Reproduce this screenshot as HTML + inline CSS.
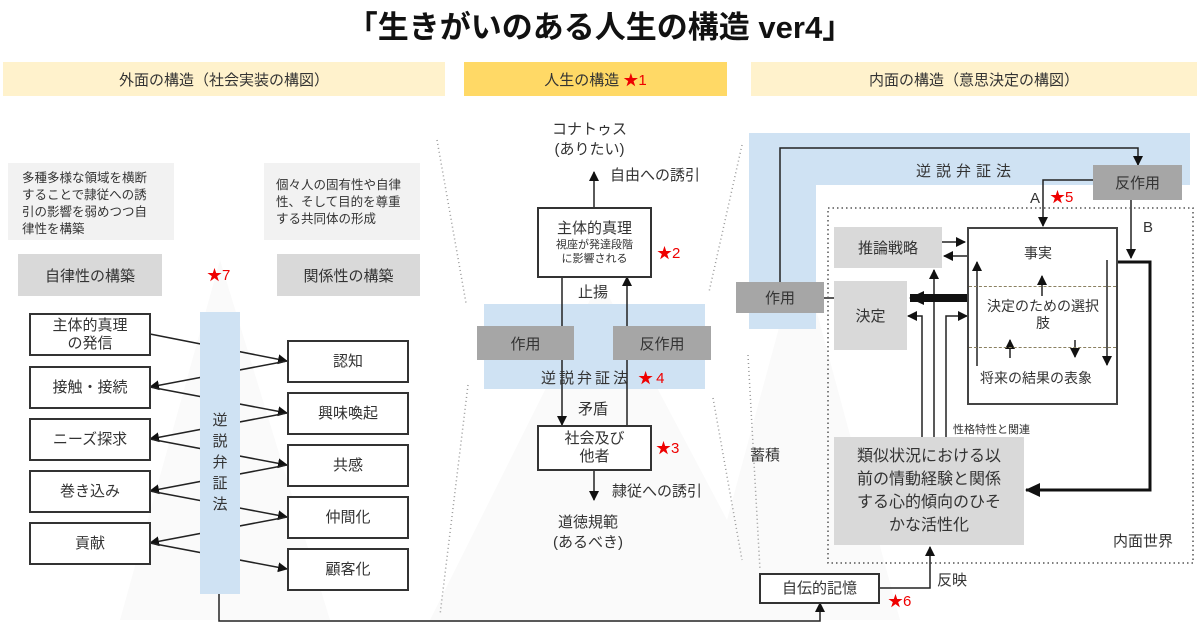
<!DOCTYPE html>
<html><head><meta charset="utf-8"><style>
body{margin:0;width:1200px;height:626px;background:#fff;position:relative;overflow:hidden;font-family:"Liberation Sans","Noto Sans CJK JP",sans-serif;color:#333}
div{position:absolute;box-sizing:border-box}
.c{display:flex;align-items:center;justify-content:center;text-align:center}
.bx{border:2px solid #333;background:#fff;font-size:15px;line-height:18px}
.g{background:#d9d9d9;font-size:15px}
.r{color:#e00;font-size:15px}
.t{font-size:15px;white-space:nowrap}
svg{position:absolute;left:0;top:0}
</style></head><body>
<svg width="1200" height="626">
<g fill="#fafafa"><polygon points="120,620 220,260 330,620"/><polygon points="430,620 600,280 780,620"/><polygon points="700,620 800,250 900,620"/></g>
<g stroke="#999" stroke-width="1.5" stroke-dasharray="1 3" fill="none">
<line x1="437" y1="140" x2="466" y2="303"/><line x1="468" y1="385" x2="440" y2="615"/>
<line x1="742" y1="145" x2="709" y2="292"/><line x1="713" y1="398" x2="742" y2="560"/>
<line x1="748" y1="355" x2="760" y2="570"/>
</g>
<rect x="484" y="304" width="221" height="85" fill="#cfe2f3"/>
<path d="M749,133 H1190 V185 H816 V329 H749 Z" fill="#cfe2f3"/>
<defs><marker id="a" markerWidth="10" markerHeight="10" refX="9" refY="5" orient="auto" markerUnits="userSpaceOnUse"><path d="M0,0 L10,5 L0,10 Z" fill="#111"/></marker>
<marker id="b" markerWidth="16" markerHeight="16" refX="14" refY="8" orient="auto" markerUnits="userSpaceOnUse"><path d="M0,1 L15,8 L0,15 Z" fill="#111"/></marker></defs>
<g stroke="#222" stroke-width="1.5" fill="none" marker-end="url(#a)">
<line x1="150" y1="334" x2="287" y2="361"/><line x1="287" y1="361" x2="150" y2="387"/>
<line x1="150" y1="387" x2="287" y2="413"/><line x1="287" y1="413" x2="150" y2="439"/>
<line x1="150" y1="439" x2="287" y2="465"/><line x1="287" y1="465" x2="150" y2="491"/>
<line x1="150" y1="491" x2="287" y2="517"/><line x1="287" y1="517" x2="150" y2="543"/>
<line x1="150" y1="543" x2="287" y2="569"/>
<path d="M219,594 V621 H820 V603"/>
<line x1="594" y1="207" x2="594" y2="172"/>
<line x1="562" y1="277" x2="562" y2="425"/>
<line x1="627" y1="425" x2="627" y2="277"/>
<line x1="594" y1="470" x2="594" y2="500"/>
<path d="M780,282 V148 H1138 V165"/>
<path d="M1093,180 H1043 V226"/>
<line x1="1131" y1="200" x2="1131" y2="258"/>
<line x1="942" y1="242" x2="965" y2="242"/><line x1="967" y1="256" x2="944" y2="256"/>
<line x1="834" y1="298" x2="810" y2="298"/>
<path d="M922,437 V316 H908"/><line x1="934" y1="437" x2="934" y2="270"/><path d="M946,437 V316 H967"/>
<line x1="977" y1="366" x2="977" y2="262"/><line x1="1107" y1="260" x2="1107" y2="365"/>
<line x1="1042" y1="296" x2="1042" y2="276"/><line x1="1010" y1="358" x2="1010" y2="340"/><line x1="1075" y1="340" x2="1075" y2="357"/>
<path d="M880,588 H930 V547"/>
</g>
<path d="M1118,262 H1150 V490 H1026" stroke="#111" stroke-width="3" fill="none" marker-end="url(#b)"/>
<line x1="967" y1="298" x2="910" y2="298" stroke="#111" stroke-width="8" marker-end="url(#b)"/>
<rect x="828" y="208" width="365" height="355" fill="none" stroke="#555" stroke-width="1.5" stroke-dasharray="1.5 3"/>
</svg>
<div class="c" style="left:0;width:1200px;top:4px;height:40px;font-size:31px;font-weight:bold;color:#111">「生きがいのある人生の構造 ver4」</div>
<div class="c t" style="left:3px;top:62px;width:442px;height:34px;background:#fff2cc">外面の構造（社会実装の構図）</div>
<div class="c t" style="left:464px;top:62px;width:263px;height:34px;background:#ffd966">人生の構造 <span class="r">&nbsp;★1</span></div>
<div class="c t" style="left:751px;top:62px;width:446px;height:34px;background:#fff2cc">内面の構造（意思決定の構図）</div>

<div style="left:8px;top:163px;width:166px;height:77px;background:#f2f2f2;font-size:12.5px;line-height:17px;padding:7px 22px 7px 14px">多種多様な領域を横断することで隷従への誘引の影響を弱めつつ自律性を構築</div>
<div style="left:264px;top:163px;width:156px;height:77px;background:#f2f2f2;font-size:12.5px;line-height:17px;padding:14px 10px 14px 12px">個々人の固有性や自律性、そして目的を尊重する共同体の形成</div>
<div class="c g" style="left:18px;top:254px;width:144px;height:42px">自律性の構築</div>
<div class="c g" style="left:277px;top:254px;width:143px;height:42px">関係性の構築</div>
<div class="r" style="left:207px;top:264px">★7</div>
<div class="c bx" style="left:29px;top:313px;width:122px;height:43px">主体的真理<br>の発信</div>
<div class="c bx" style="left:29px;top:366px;width:122px;height:43px">接触・接続</div>
<div class="c bx" style="left:29px;top:418px;width:122px;height:43px">ニーズ探求</div>
<div class="c bx" style="left:29px;top:470px;width:122px;height:43px">巻き込み</div>
<div class="c bx" style="left:29px;top:522px;width:122px;height:43px">貢献</div>
<div class="c bx" style="left:287px;top:340px;width:122px;height:43px">認知</div>
<div class="c bx" style="left:287px;top:392px;width:122px;height:43px">興味喚起</div>
<div class="c bx" style="left:287px;top:444px;width:122px;height:43px">共感</div>
<div class="c bx" style="left:287px;top:496px;width:122px;height:43px">仲間化</div>
<div class="c bx" style="left:287px;top:548px;width:122px;height:43px">顧客化</div>
<div style="left:200px;top:312px;width:40px;height:282px;background:#cfe2f3;font-size:15px;line-height:21px;text-align:center;padding-top:98px">逆<br>説<br>弁<br>証<br>法</div>

<div class="t" style="left:552px;top:120px;line-height:20px;text-align:center">コナトゥス<br>(ありたい)</div>
<div class="t" style="left:610px;top:164px">自由への誘引</div>
<div class="c bx" style="left:537px;top:207px;width:115px;height:71px;flex-direction:column"><span>主体的真理</span><span style="font-size:11px;line-height:14px">視座が発達段階<br>に影響される</span></div>
<div class="r" style="left:657px;top:242px">★2</div>
<div class="t" style="left:578px;top:281px">止揚</div>
<div class="c g" style="left:477px;top:326px;width:97px;height:34px;background:#a6a6a6">作用</div>
<div class="c g" style="left:613px;top:326px;width:98px;height:34px;background:#a6a6a6">反作用</div>
<div class="t" style="left:541px;top:367px;letter-spacing:3px">逆説弁証法 <span class="r">★4</span></div>
<div class="t" style="left:578px;top:398px">矛盾</div>
<div class="c bx" style="left:537px;top:425px;width:115px;height:46px">社会及び<br>他者</div>
<div class="r" style="left:656px;top:437px">★3</div>
<div class="t" style="left:612px;top:480px">隷従への誘引</div>
<div class="t" style="left:553px;top:513px;line-height:20px;text-align:center">道徳規範<br>(あるべき)</div>

<div class="t" style="left:916px;top:160px;letter-spacing:5px">逆説弁証法</div>
<div class="c g" style="left:1093px;top:165px;width:89px;height:35px;background:#a6a6a6">反作用</div>
<div class="t" style="left:1030px;top:190px">A</div>
<div class="r" style="left:1050px;top:186px">★5</div>
<div class="t" style="left:1143px;top:219px">B</div>
<div class="c g" style="left:834px;top:227px;width:108px;height:41px">推論戦略</div>
<div style="left:967px;top:227px;width:151px;height:178px;border:2px solid #444;background:transparent"></div>
<div style="left:969px;top:286px;width:147px;border-top:1.5px dashed #8a8060"></div>
<div style="left:969px;top:347px;width:147px;border-top:1.5px dashed #8a8060"></div>
<div class="t" style="left:1024px;top:243px;font-size:14px">事実</div>
<div class="t" style="left:982px;top:298px;width:122px;font-size:14px;line-height:17px;text-align:center;white-space:normal">決定のための選択肢</div>
<div class="t" style="left:980px;top:368px;font-size:14px">将来の結果の表象</div>
<div class="c g" style="left:736px;top:282px;width:88px;height:31px;background:#a6a6a6">作用</div>
<div class="c g" style="left:834px;top:281px;width:73px;height:69px">決定</div>
<div class="t" style="left:953px;top:421px;font-size:11px">性格特性と関連</div>
<div class="c g" style="left:834px;top:437px;width:190px;height:108px;font-size:16px;line-height:23px;white-space:nowrap">類似状況における以<br>前の情動経験と関係<br>する心的傾向のひそ<br>かな活性化</div>
<div class="t" style="left:1113px;top:530px">内面世界</div>
<div class="t" style="left:750px;top:444px">蓄積</div>
<div class="c bx" style="left:759px;top:573px;width:121px;height:31px">自伝的記憶</div>
<div class="t" style="left:937px;top:569px">反映</div>
<div class="r" style="left:888px;top:590px">★6</div>
</body></html>
